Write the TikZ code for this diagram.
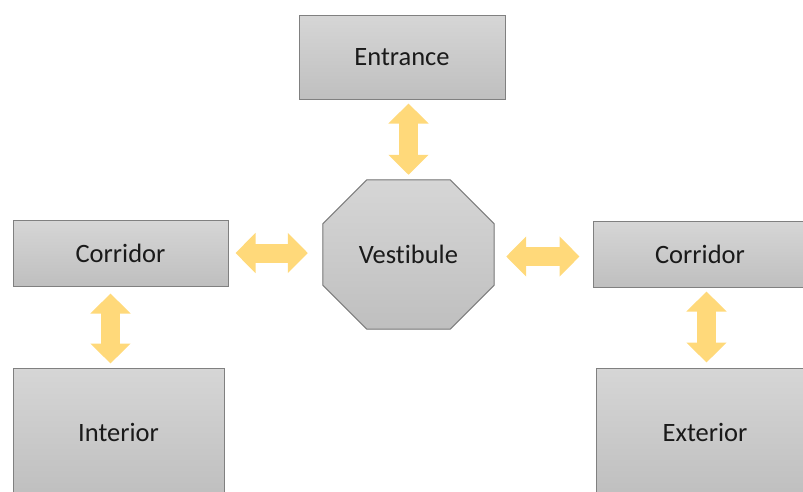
\documentclass[tikz,border=0pt]{standalone}
\usepackage{fontspec}
\setmainfont{Carlito}[Ligatures={TeX,NoCommon}]
\usetikzlibrary{calc,arrows.meta}

\definecolor{boxtop}{HTML}{D6D6D6}
\definecolor{boxbot}{HTML}{BFBFBF}
\definecolor{boxline}{HTML}{808080}
\definecolor{linkgold}{HTML}{FFD97A}
\definecolor{labelink}{HTML}{1A1A1A}

\tikzset{
  room/.style={rectangle, draw=boxline, line width=1pt, top color=boxtop,
    bottom color=boxbot, inner sep=0pt, text=labelink,
    font=\fontsize{26.5}{30}\selectfont},
  hall/.style={draw=boxline, line width=1pt, top color=boxtop, bottom color=boxbot},
  passage/.style={draw=linkgold, line width=19pt,
    {Triangle[length=20pt, width=39pt]}-{Triangle[length=20pt, width=39pt]}},
}

\begin{document}
\begin{tikzpicture}[x=1pt, y=-1pt]
  \useasboundingbox (0,0) rectangle (803,491);
  \clip (0,0) rectangle (803,491);

  % rooms
  \node[room, minimum width=206pt, minimum height=84pt] (ent) at (402,57) {Entrance};
  \node[room, minimum width=215pt, minimum height=66pt] (corL) at (120.5,253) {Corridor};
  \node[room, minimum width=214pt, minimum height=66pt] (corR) at (700,254) {Corridor};
  \node[room, minimum width=211pt, minimum height=128pt] (inter) at (118.5,432) {Interior};
  \node[room, minimum width=218pt, minimum height=128pt] (exter) at (705,432) {Exterior};

  % octagonal vestibule
  \node[rectangle, inner sep=0pt, minimum width=171pt, minimum height=149pt] (vest) at (408.5,254.5) {};
  \fill[hall]
    ($(vest.north west)+(44,0)$) -- ($(vest.north east)+(-44,0)$)
    -- ($(vest.north east)+(0,44)$) -- ($(vest.south east)+(0,-44)$)
    -- ($(vest.south east)+(-44,0)$) -- ($(vest.south west)+(44,0)$)
    -- ($(vest.south west)+(0,-44)$) -- ($(vest.north west)+(0,44)$) -- cycle;
  \node[text=labelink, font=\fontsize{26.5}{30}\selectfont] (vestlabel) at (vest) {Vestibule};

  % two-way passages
  \draw[passage, shorten <=5pt, shorten >=4pt] (vest.north) -- (vest.north |- ent.south);
  \draw[passage, shorten <=7pt, shorten >=15pt] (corL.east) -- (corL.east -| vest.west);
  \draw[passage, shorten <=12pt, shorten >=13pt] ([yshift=-2pt]vest.east) -- ([yshift=-2pt]vest.east -| corR.west);
  \draw[passage, shorten <=7pt, shorten >=4pt] ([xshift=-10pt]corL.south) -- ([xshift=-10pt]corL.south |- inter.north);
  \draw[passage, shorten <=4pt, shorten >=5pt] ([xshift=6.5pt]corR.south) -- ([xshift=6.5pt]corR.south |- exter.north);
\end{tikzpicture}
\end{document}
